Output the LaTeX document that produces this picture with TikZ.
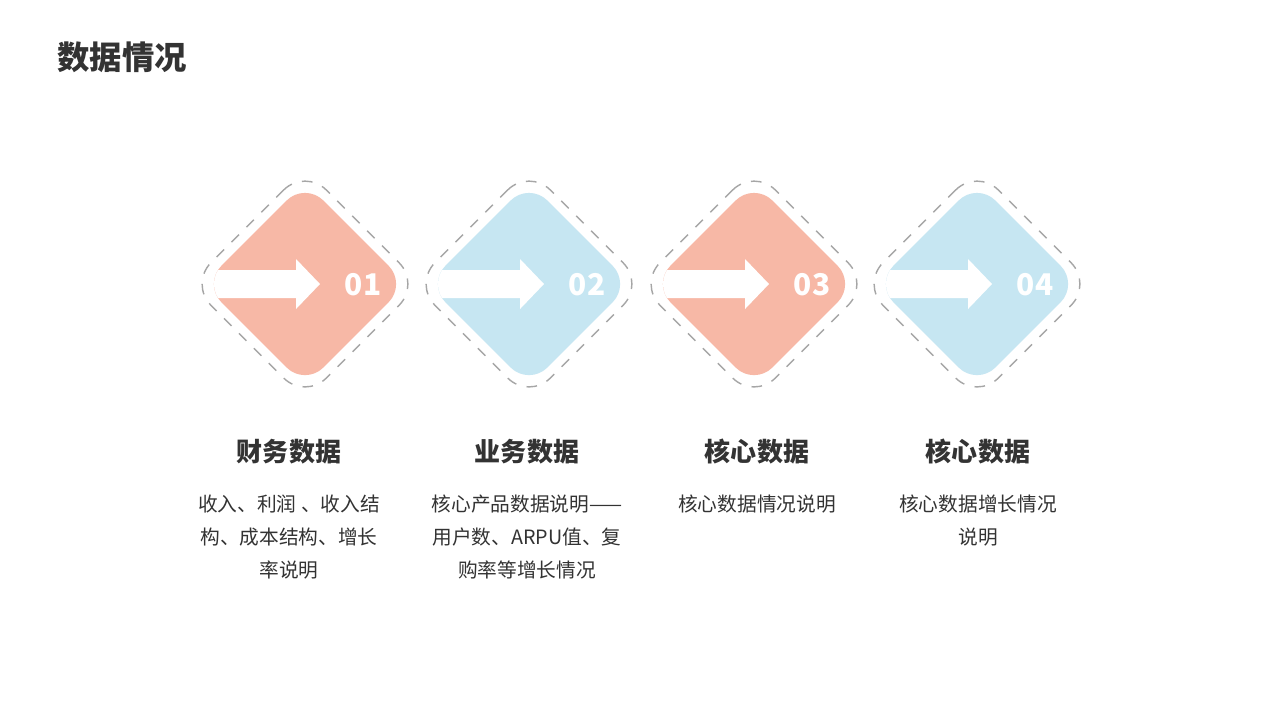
\documentclass[tikz,border=0pt]{standalone}
\usepackage{fontspec}
\setmainfont{Noto Sans CJK SC}
\usepackage{tikz}
\definecolor{salmon}{HTML}{F7B8A6}
\definecolor{skyblue}{HTML}{C6E6F2}
\definecolor{textdark}{HTML}{333333}
\tikzset{
  dashbox/.style={draw=black!35,dashed,line width=0.4pt,rounded corners=0.3cm,minimum size=1.63cm,rotate=45,inner sep=0pt},
  fillbox/.style={rounded corners=0.26cm,minimum size=1.44cm,rotate=45,inner sep=0pt},
  numtext/.style={text=white,font=\fontsize{8.5pt}{10pt}\selectfont\bfseries},
  headtext/.style={text=textdark,font=\fontsize{7.4pt}{9pt}\selectfont\bfseries},
  bodytext/.style={text=textdark,align=center,font=\fontsize{5.6pt}{9.4pt}\selectfont}
}
\begin{document}
\begin{tikzpicture}[x=0.01cm,y=-0.01cm]
\useasboundingbox[fill=white] (0,0) rectangle (1280,720);
\node[anchor=west,text=textdark,font=\fontsize{9.2pt}{11pt}\selectfont\bfseries] (title) at (45,57) {数据情况};

\foreach \i/\cx/\col/\num in {1/305/salmon/01,2/529/skyblue/02,3/754/salmon/03,4/977/skyblue/04}{
  \node[dashbox] (d\i) at (\cx,284) {};
  \node[fillbox,fill=\col] (f\i) at (\cx,284) {};
  \begin{scope}
    \clip[rotate around={45:(\cx,284)},rounded corners=0.26cm] (\cx-72,212) rectangle (\cx+72,356);
    \fill[white] (\cx-120,270) -- (\cx-9,270) -- (\cx-9,259) -- (\cx+15,284) -- (\cx-9,309) -- (\cx-9,298) -- (\cx-120,298) -- cycle;
  \end{scope}
  \node[numtext] (n\i) at (\cx+58,285) {\num};
}

\node[headtext] (h1) at (289,452) {财务数据};
\node[headtext] (h2) at (527,452) {业务数据};
\node[headtext] (h3) at (757,452) {核心数据};
\node[headtext] (h4) at (978,452) {核心数据};

\node[bodytext,anchor=north] (b1) at (289,482) {收入、利润 、收入结\\构、成本结构、增长\\率说明};
\node[bodytext,anchor=north] (b2) at (527,482) {核心产品数据说明——\\用户数、ARPU值、复\\购率等增长情况};
\node[bodytext,anchor=north] (b3) at (757,482) {核心数据情况说明};
\node[bodytext,anchor=north] (b4) at (978,482) {核心数据增长情况\\说明};
\end{tikzpicture}
\end{document}
